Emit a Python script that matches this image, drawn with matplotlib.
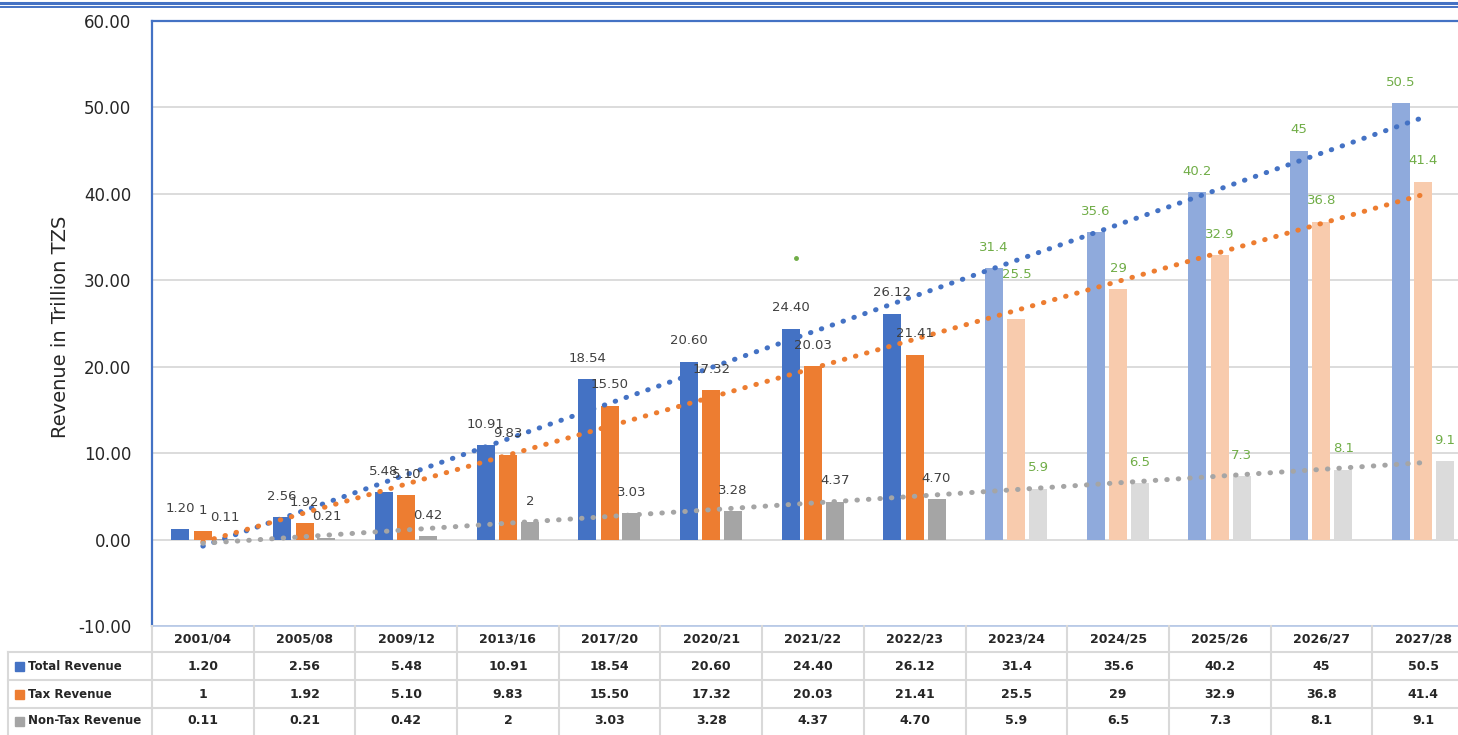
import numpy as np
import matplotlib.pyplot as plt
from matplotlib import transforms
from matplotlib.lines import Line2D
from matplotlib.patches import Rectangle

# --- DATA ---
years = ["2001/04", "2005/08", "2009/12", "2013/16", "2017/20", "2020/21", "2021/22",
         "2022/23", "2023/24", "2024/25", "2025/26", "2026/27", "2027/28"]
total = [1.20, 2.56, 5.48, 10.91, 18.54, 20.60, 24.40, 26.12, 31.4, 35.6, 40.2, 45, 50.5]
tax = [1, 1.92, 5.10, 9.83, 15.50, 17.32, 20.03, 21.41, 25.5, 29, 32.9, 36.8, 41.4]
non_tax = [0.11, 0.21, 0.42, 2, 3.03, 3.28, 4.37, 4.70, 5.9, 6.5, 7.3, 8.1, 9.1]

total_txt = ["1.20", "2.56", "5.48", "10.91", "18.54", "20.60", "24.40", "26.12",
             "31.4", "35.6", "40.2", "45", "50.5"]
tax_txt = ["1", "1.92", "5.10", "9.83", "15.50", "17.32", "20.03", "21.41",
           "25.5", "29", "32.9", "36.8", "41.4"]
non_tax_txt = ["0.11", "0.21", "0.42", "2", "3.03", "3.28", "4.37", "4.70",
               "5.9", "6.5", "7.3", "8.1", "9.1"]
series_names = ["Total Revenue", "Tax Revenue", "Non-Tax Revenue"]
n_actual = 8  # first 8 periods are outturn, the rest projections

# stray marker sitting in the chart area
stray_x, stray_y = 5.83, 32.6

# --- STYLE ---
W, H = 1458, 735
actual_cols = ["#4472C4", "#ED7D31", "#A5A5A5"]
proj_cols = ["#8FAADC", "#F8CBAD", "#DBDBDB"]
offsets = [-0.22, 0.0, 0.215]
bar_w = 0.177
grid_col = "#D9D9D9"
txt_col = "#262626"

fig = plt.figure(figsize=(W / 100, H / 100), dpi=100)
ax = fig.add_axes([152 / W, 1 - 626 / H, 1322 / W, 605 / H])

x = np.arange(len(years))
series = [total, tax, non_tax]
labels = [total_txt, tax_txt, non_tax_txt]

for vals, off, ca, cp in zip(series, offsets, actual_cols, proj_cols):
    cols = [ca if i < n_actual else cp for i in x]
    ax.bar(x + off, vals, width=bar_w, color=cols, zorder=2)

# linear trend lines over all periods
for vals, c in zip(series, actual_cols):
    k, b = np.polyfit(x, vals, 1)
    ax.plot(x, k * x + b, color=c, lw=3.6, linestyle=(0, (0.1, 2.2)),
            dash_capstyle="round", zorder=3)

ax.plot(stray_x, stray_y, "o", color="#70AD47", ms=2.5, zorder=3)

# data labels
for vals, txts, off in zip(series, labels, offsets):
    for i in x:
        lift = 15
        if txts is tax_txt and i == 8:
            lift = 32
        ax.annotate(txts[i], (i + off, vals[i]), xytext=(0, lift),
                    textcoords="offset points", ha="center", va="center",
                    fontsize=9.5, color="#404040" if i < n_actual else "#70AD47",
                    zorder=4)

ax.set_xlim(-0.5, len(years) - 0.5)
ax.set_ylim(-10, 60)
ax.set_yticks(np.arange(-10, 61, 10))
ax.yaxis.set_major_formatter(plt.FuncFormatter(lambda v, p: f"{v:.2f}"))
ax.tick_params(axis="y", length=0, pad=15, labelsize=12, labelcolor=txt_col)
ax.set_xticks([])
ax.yaxis.grid(True, color=grid_col, lw=1.3)
ax.set_axisbelow(True)
for s in ["top", "left"]:
    ax.spines[s].set_color("#4472C4")
    ax.spines[s].set_linewidth(1.6)
ax.spines["bottom"].set_color("#B4C7E7")
ax.spines["bottom"].set_linewidth(1.2)
ax.spines["right"].set_visible(False)

fig.text(60 / W, 1 - 327 / H, "Revenue in Trillion TZS", rotation=90,
         ha="center", va="center", fontsize=14, color=txt_col)

# double rule across the top
fig.add_artist(Line2D([0, 1], [1 - 2.5 / H] * 2, transform=fig.transFigure,
                      color="#4472C4", lw=2.2))
fig.add_artist(Line2D([0, 1], [1 - 6.5 / H] * 2, transform=fig.transFigure,
                      color="#4472C4", lw=1.4))

# --- DATA TABLE ---
def fy(py):
    return 1 - py / H

bt = transforms.blended_transform_factory(ax.transData, fig.transFigure)
row_edges = [626, 652, 680, 708, 735]

for k in range(len(years) + 1):
    fig.add_artist(Line2D([k - 0.5] * 2, [fy(626), fy(735)], transform=bt,
                          color=grid_col, lw=1.5, clip_on=False))
for py in row_edges[1:4]:
    fig.add_artist(Line2D([-0.5, len(years) - 0.5], [fy(py)] * 2, transform=bt,
                          color=grid_col, lw=1.5, clip_on=False))
    fig.add_artist(Line2D([8 / W, 152 / W], [fy(py)] * 2, transform=fig.transFigure,
                          color=grid_col, lw=1.5))
fig.add_artist(Line2D([8 / W] * 2, [fy(652), fy(735)], transform=fig.transFigure,
                      color=grid_col, lw=1.5))

for i, yr in enumerate(years):
    fig.text(i, fy(639), yr, transform=bt, ha="center", va="center",
             fontsize=9, fontweight="bold", color=txt_col)

row_centers = [666, 694, 721]
for r, (name, txts, c) in enumerate(zip(series_names, labels, actual_cols)):
    yc = row_centers[r]
    fig.add_artist(Rectangle((15 / W, fy(yc + 4.5)), 9 / W, 9 / H,
                             transform=fig.transFigure, color=c))
    fig.text(28 / W, fy(yc), name, ha="left", va="center", fontsize=8.5,
             fontweight="bold", color=txt_col)
    for i, t in enumerate(txts):
        fig.text(i, fy(yc), t, transform=bt, ha="center", va="center",
                 fontsize=9, fontweight="bold", color=txt_col)

fig.savefig("out.png", dpi=100)
